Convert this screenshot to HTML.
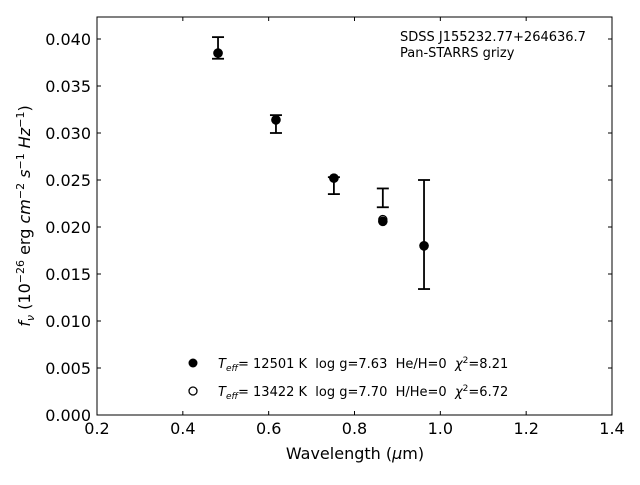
<!DOCTYPE html>
<html><head><meta charset="utf-8"><style>
body{margin:0;background:#fff;}
svg text{font-family:"DejaVu Sans","Liberation Sans",sans-serif;white-space:pre;}
</style></head><body>
<svg id="chart" width="640" height="480">
<rect x="97" y="17" width="515" height="398" fill="none" stroke="#000" stroke-width="1"/>
<g id="xt"></g>
<g id="yt"></g>
<g id="marks"></g>
<text x="355" y="459" font-size="16" text-anchor="middle">Wavelength (<tspan font-style="italic">μ</tspan>m)</text>
<text transform="translate(30,216) rotate(-90)" font-size="16" text-anchor="middle"><tspan font-style="italic">f<tspan font-size="11" dy="4">ν</tspan></tspan><tspan dy="-4"> (10</tspan><tspan font-size="11" dy="-6">−26</tspan><tspan dy="6"> erg </tspan><tspan font-style="italic">cm</tspan><tspan font-size="11" dy="-6">−2</tspan><tspan dy="6" font-style="italic"> s</tspan><tspan font-size="11" dy="-6">−1</tspan><tspan dy="6" font-style="italic"> Hz</tspan><tspan font-size="11" dy="-6">−1</tspan><tspan dy="6">)</tspan></text>
<text x="400" y="41" font-size="13">SDSS J155232.77+264636.7</text>
<text x="400" y="57" font-size="13">Pan-STARRS grizy</text>
<g>
<circle cx="193" cy="363" r="4.5" fill="#000"/>
<text x="218" y="368" font-size="13"><tspan font-style="italic">T<tspan font-size="9" dy="3">eff</tspan></tspan><tspan dy="-3">= 12501 K  log g=7.63  He/H=0  </tspan><tspan font-style="italic">χ</tspan><tspan font-size="9" dy="-5">2</tspan><tspan dy="5">=8.21</tspan></text>
<circle cx="193" cy="391" r="4" fill="#fff" stroke="#000" stroke-width="1.3"/>
<text x="218" y="396" font-size="13"><tspan font-style="italic">T<tspan font-size="9" dy="3">eff</tspan></tspan><tspan dy="-3">= 13422 K  log g=7.70  H/He=0  </tspan><tspan font-style="italic">χ</tspan><tspan font-size="9" dy="-5">2</tspan><tspan dy="5">=6.72</tspan></text>
</g>
</svg>
<script>
const wavelengths=[0.482,0.617,0.752,0.866,0.962];
const obsFlux=[0.03905,0.03095,0.0244,0.0231,0.0192];
const obsErr=[0.00115,0.00095,0.0009,0.001,0.0058];
const model1=[0.0385,0.0314,0.0252,0.0206,0.0180];
const model2=[0.0385,0.0314,0.0252,0.0208,0.0180];
const xTicks=[0.2,0.4,0.6,0.8,1.0,1.2,1.4];
const yTicks=[0,0.005,0.01,0.015,0.02,0.025,0.03,0.035,0.04];
const NS="http://www.w3.org/2000/svg";
const X=v=>97+(v-0.2)/1.2*515;
const Y=v=>415-v/0.04*376;
function mk(tag,at,parent){const e=document.createElementNS(NS,tag);for(const k in at)e.setAttribute(k,at[k]);parent.appendChild(e);return e;}
const xt=document.getElementById('xt'),yt=document.getElementById('yt'),m=document.getElementById('marks');
xTicks.forEach(v=>{const x=X(v);
 let l=mk('line',{x1:x,x2:x,y1:415,y2:411,stroke:'#000'},xt);
 
 
 let l2=mk('line',{x1:x,x2:x,y1:17,y2:21,stroke:'#000'},xt);
 
 
 let t=mk('text',{x:x,y:434,'font-size':16,'text-anchor':'middle'},xt);t.textContent=v.toFixed(1);
 
 });
yTicks.forEach(v=>{const y=Y(v);
 let l=mk('line',{x1:97,x2:101,y1:y,y2:y,stroke:'#000'},yt);
 
 
 let l2=mk('line',{x1:608,x2:612,y1:y,y2:y,stroke:'#000'},yt);
 
 
 let t=mk('text',{x:91,y:y+6,'font-size':16,'text-anchor':'end'},yt);t.textContent=v.toFixed(3);
 
 });
wavelengths.forEach((w,i)=>{const x=X(w),t=Y(obsFlux[i]+obsErr[i]),b=Y(obsFlux[i]-obsErr[i]);
 const g=mk('g',{stroke:'#000','stroke-width':1.8},m);
 
 
 mk('line',{x1:x,x2:x,y1:t,y2:b},g);mk('line',{x1:x-6,x2:x+6,y1:t,y2:t},g);mk('line',{x1:x-6,x2:x+6,y1:b,y2:b},g);
 const c2=mk('circle',{cx:x,cy:Y(model2[i]),r:4,fill:'#fff',stroke:'#000','stroke-width':1.3},m);
 
 
 const c1=mk('circle',{cx:x,cy:Y(model1[i]),r:4.8,fill:'#000'},m);
 
 });
</script>
</body></html>
